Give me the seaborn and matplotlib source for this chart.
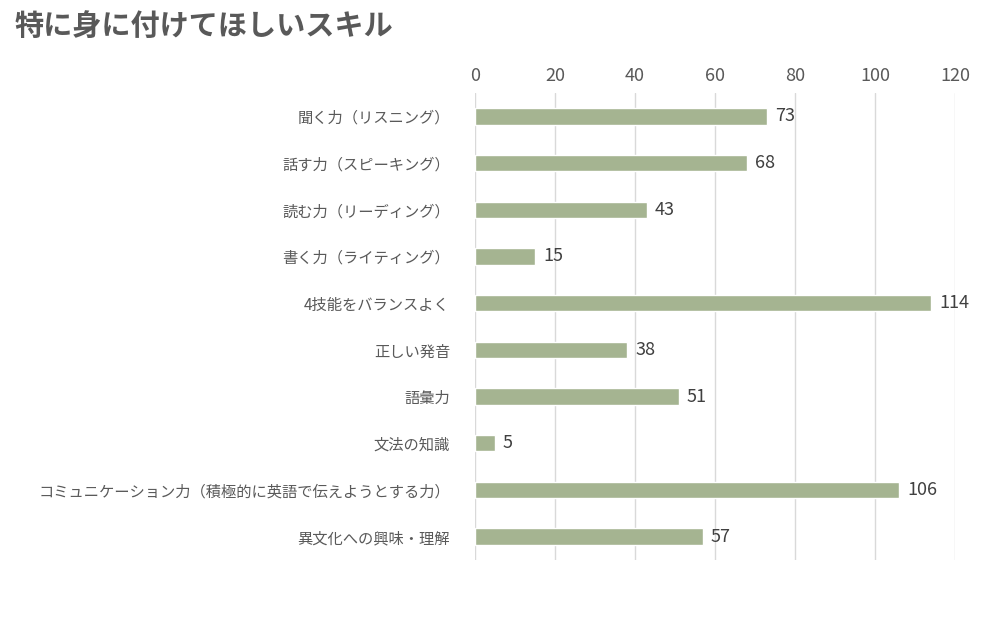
import matplotlib
matplotlib.use("Agg")
import matplotlib.pyplot as plt
import seaborn as sns
import pandas as pd

categories = ["聞く力（リスニング）", "話す力（スピーキング）", "読む力（リーディング）", "書く力（ライティング）",
              "4技能をバランスよく", "正しい発音", "語彙力", "文法の知識",
              "コミュニケーション力（積極的に英語で伝えようとする力）", "異文化への興味・理解"]
values = [73, 68, 43, 15, 114, 38, 51, 5, 106, 57]
xticks = [0, 20, 40, 60, 80, 100, 120]

sns.set_theme(style="white")
plt.rcParams['font.family'] = ['Noto Sans CJK JP', 'DejaVu Sans']

df = pd.DataFrame({"cat": categories, "val": values})
fig = plt.figure(figsize=(10.08, 6.44), dpi=100)
ax = fig.add_axes([475/1008, 1-560/644, 480/1008, 467/644])
sns.barplot(data=df, x="val", y="cat", orient="h", color="#A5B491", saturation=1, width=0.35, ax=ax)
ax.set_xlim(0, 120)
ax.set_ylim(9.5, -0.5)
ax.set_xticks(xticks)
ax.xaxis.tick_top()
ax.tick_params(axis='x', length=0, labelsize=13, labelcolor="#595959", pad=6)
ax.tick_params(axis='y', length=0, labelsize=11, labelcolor="#595959", pad=18)
ax.grid(axis='x', color="#D9D9D9", linewidth=1)
ax.set_axisbelow(True)
for s in ax.spines.values():
    s.set_visible(False)
ax.set_xlabel("")
ax.set_ylabel("")
for i, v in enumerate(values):
    ax.text(v + 2, i, str(v), va="center", ha="left", fontsize=13, color="#404040")
fig.text(15/1008, 1-26/644, "特に身に付けてほしいスキル", fontsize=21, fontweight="bold",
         color="#595959", va="center", ha="left")
fig.savefig("out.png", dpi=100)
